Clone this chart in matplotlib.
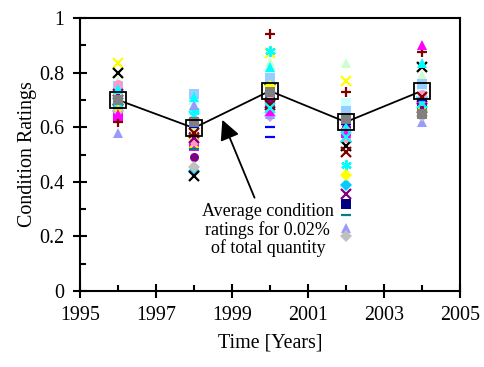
import matplotlib
matplotlib.use('Agg')
import matplotlib.pyplot as plt
from matplotlib.ticker import MultipleLocator, FormatStrFormatter, FuncFormatter

plt.rcParams['font.family'] = 'Liberation Serif'

# Años de inspección
years = [1996, 1998, 2000, 2002, 2004]

# Series de calificaciones (colores y marcadores estilo Excel)
colors = ['#000080', '#FF00FF', '#FFFF00', '#00FFFF', '#800080', '#800000', '#008080',
          '#0000FF', '#00CCFF', '#CCFFFF', '#CCFFCC', '#99CCFF', '#FF99CC', '#CC99FF',
          '#000000', '#9999FF', '#C0C0C0', '#FFFF00', '#800080', '#00FFFF', '#FF00FF',
          '#800000', '#00FFFF', '#0000FF', '#808080']
markers = ['s', 's', 'x', (6, 2, 0), 'o', '+', '_',
           '_', 'D', 's', '^', 's', 'o', 'D',
           'x', '^', 'D', 'D', 'x', '^', '^',
           'x', 'x', '_', 's']
ratings = [
    [0.69, 0.61, 0.72, 0.32, 0.68],
    [0.64, 0.53, 0.69, 0.58, 0.70],
    [0.835, 0.54, 0.87, 0.77, 0.66],
    [0.70, 0.66, 0.88, 0.46, 0.67],
    [0.71, 0.49, 0.70, 0.60, 0.70],
    [0.62, 0.58, 0.94, 0.73, 0.875],
    [0.72, 0.52, 0.71, 0.28, 0.70],
    [0.68, 0.61, 0.60, 0.61, 0.68],
    [0.68, 0.44, 0.76, 0.39, 0.71],
    [0.73, 0.70, 0.80, 0.69, 0.73],
    [0.77, 0.60, 0.84, 0.835, 0.79],
    [0.75, 0.72, 0.78, 0.66, 0.76],
    [0.76, 0.55, 0.72, 0.56, 0.72],
    [0.66, 0.63, 0.64, 0.59, 0.69],
    [0.80, 0.42, 0.74, 0.53, 0.82],
    [0.58, 0.68, 0.65, 0.23, 0.62],
    [0.66, 0.455, 0.73, 0.20, 0.64],
    [0.67, 0.57, 0.75, 0.425, 0.66],
    [0.72, 0.56, 0.69, 0.355, 0.67],
    [0.74, 0.71, 0.82, 0.60, 0.835],
    [0.65, 0.62, 0.66, 0.58, 0.90],
    [0.70, 0.58, 0.68, 0.51, 0.71],
    [0.69, 0.64, 0.67, 0.565, 0.69],
    [0.67, 0.60, 0.565, 0.62, 0.70],
    [0.70, 0.62, 0.73, 0.63, 0.65],
]

# Promedio
promedio = [0.70, 0.597, 0.733, 0.619, 0.733]

fig = plt.figure(figsize=(4.84, 3.67), dpi=100)
ax = fig.add_axes([0.165, 0.207, 0.785, 0.744])

for c, m, vals in zip(colors, markers, ratings):
    if m in ['x', '+', '_', (6, 2, 0)]:
        ax.plot(years, vals, linestyle='none', marker=m, color=c, markersize=7.5, markeredgewidth=1.6, zorder=3)
    else:
        ax.plot(years, vals, linestyle='none', marker=m, color=c, markersize=6.5, markeredgewidth=0, zorder=3)

ax.plot(years, promedio, color='black', linewidth=1.3, zorder=2)
ax.plot(years, promedio, linestyle='none', marker='s', markersize=11.5, markerfacecolor='none',
        markeredgecolor='black', markeredgewidth=1.3, zorder=4)

ax.annotate('Average condition\nratings for 0.02%\nof total quantity',
            xy=(1998.75, 0.627), xytext=(1999.95, 0.223),
            ha='center', va='center', fontsize=13, linespacing=1.05,
            arrowprops=dict(arrowstyle='-|>,head_length=0.6,head_width=0.3', color='black',
                            lw=1.3, mutation_scale=20, shrinkA=2, shrinkB=0))

ax.set_xlim(1995, 2005)
ax.set_ylim(0, 1)
ax.xaxis.set_minor_locator(MultipleLocator(1))
ax.yaxis.set_major_locator(MultipleLocator(0.2))
ax.yaxis.set_minor_locator(MultipleLocator(0.1))
ax.yaxis.set_major_formatter(FuncFormatter(lambda v, p: '%g' % round(v, 2)))
ax.set_xticks([1995, 1997, 1999, 2001, 2003, 2005])
ax.xaxis.set_major_formatter(FormatStrFormatter('%d'))
ax.tick_params(which='major', direction='inout', length=10, width=1.5, labelsize=14.4, pad=6)
ax.tick_params(which='minor', direction='in', length=4.5, width=1.5)
for s in ax.spines.values():
    s.set_linewidth(1.5)

ax.set_xlabel('Time [Years]', fontsize=14.4, labelpad=6)
ax.set_ylabel('Condition Ratings', fontsize=14.4, labelpad=2)

fig.savefig('out.png', dpi=100)
